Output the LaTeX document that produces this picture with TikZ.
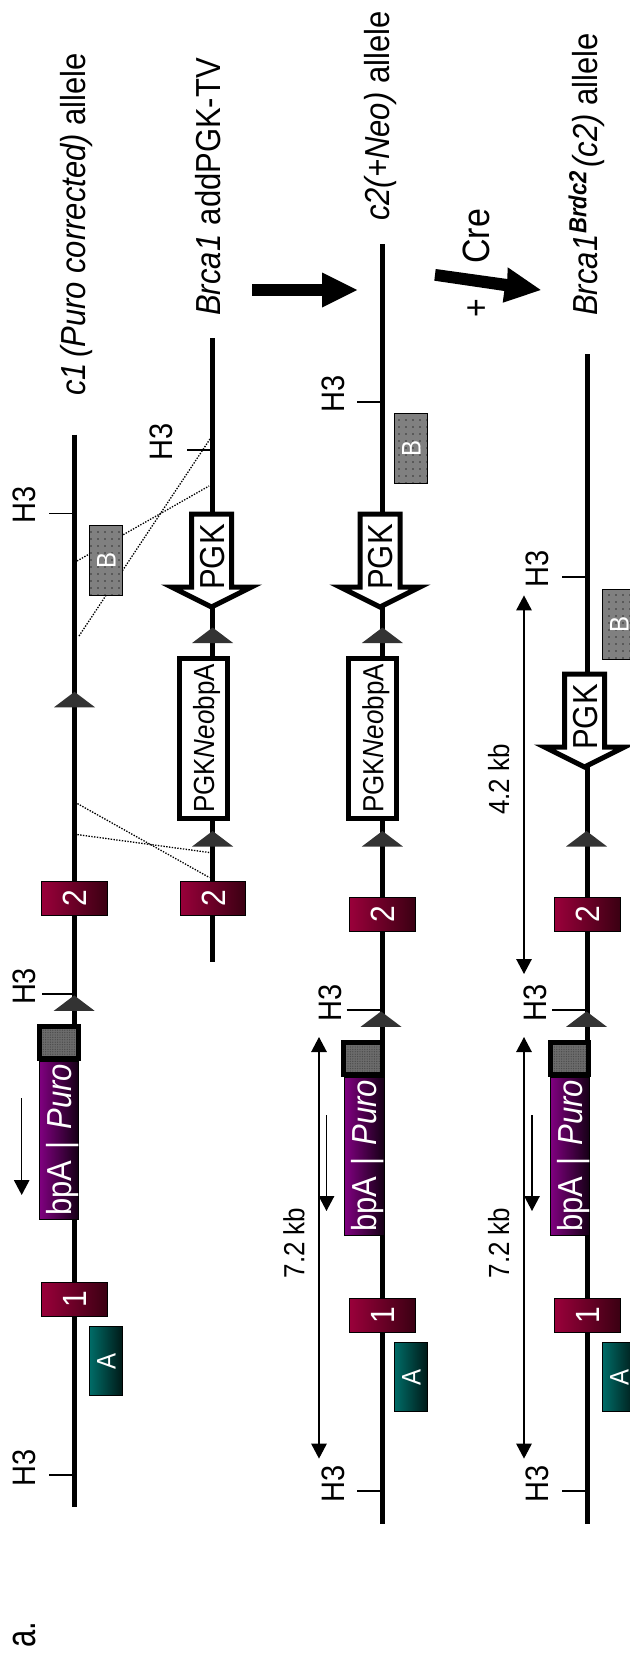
\documentclass[tikz,border=0pt]{standalone}
\usepackage{fontspec}
\setmainfont{Liberation Sans}
\usetikzlibrary{arrows.meta,patterns.meta}
\definecolor{exonred}{HTML}{99003A}
\definecolor{exondark}{HTML}{3A0012}
\definecolor{probeteal}{HTML}{006B66}
\definecolor{probedark}{HTML}{001A18}
\definecolor{purodark}{HTML}{140014}
\definecolor{puromid}{HTML}{700070}
\definecolor{puroedge}{HTML}{800080}
\definecolor{loxgray}{HTML}{333333}
\begin{document}
\begin{tikzpicture}[x=1pt, y=-1pt, >={Triangle[length=15pt,width=15.5pt]},
  genome/.style={line width=5.5pt},
  tick/.style={line width=1.1pt},
  span/.style={line width=1.3pt},
  homology/.style={dash pattern=on 1.4pt off 1.4pt, line width=1.3pt},
  textbase/.style={rotate=90, yscale=1.12, inner sep=0pt},
  alleletext/.style={textbase, anchor=base west, font=\fontsize{31}{36}\selectfont},
  hlabel/.style={textbase, font=\fontsize{29}{32}\selectfont},
  kblabel/.style={textbase, font=\fontsize{26}{30}\selectfont},
  exonbox/.style={textbase, draw=black, line width=1pt, left color=exonred, right color=exondark,
    text=white, minimum width=34pt, minimum height=58.5pt, text height=21.5pt, text depth=0pt,
    font=\fontsize{30}{32}\selectfont},
  probebox/.style={textbase, draw=black, line width=1pt, text=white, minimum width=69.5pt, minimum height=28.6pt,
    text height=17pt, text depth=0pt, font=\fontsize{24}{26}\selectfont},
  probea/.style={probebox, left color=probeteal, right color=probedark},
  probeb/.style={probebox, preaction={fill=gray}, pattern={Dots[distance=7pt,radius=.8pt]}, pattern color=black!80},
  purobox/.style={textbase, draw=black, line width=1pt, left color=puroedge, middle color=puromid, right color=purodark,
    text=white, minimum width=158pt, minimum height=35pt, text height=22pt, text depth=0pt,
    font=\fontsize{31}{34}\selectfont},
  stipple/.style={textbase, draw=black, line width=5pt, preaction={fill=gray!85!black},
    pattern={Dots[distance=2.4pt,radius=.7pt]}, pattern color=black!70,
    minimum width=32pt, minimum height=34pt},
  neobox/.style={textbase, draw=black, line width=5pt, fill=white, minimum width=160pt, minimum height=43pt,
    text height=19pt, text depth=0pt, font=\fontsize{26}{30}\selectfont},
  pgktext/.style={textbase, text height=22pt, text depth=0pt, font=\fontsize{31}{34}\selectfont},
  loxsite/.pic={\fill[loxgray] (-20.5,15.5) -- (0,0) -- (20.5,15.5) -- cycle;},
  pgkarrow/.pic={\filldraw[fill=white, draw=black, line width=5pt, miter limit=10]
    (-20,0) -- (20,0) -- (20,73) -- (40,73) -- (0,93) -- (-40,73) -- (-20,73) -- cycle;}]
\useasboundingbox (0,0) rectangle (629,1659);
\coordinate (cOneTop) at (74.6,434.6);
\coordinate (cOneEnd) at (74.6,1507);
\coordinate (tvTop) at (212.6,338);
\coordinate (tvEnd) at (212.6,962);
\coordinate (cTwoTop) at (382.7,244);
\coordinate (cTwoEnd) at (382.7,1523.6);
\coordinate (brTop) at (587.6,354);
\coordinate (brEnd) at (587.6,1523.6);
\draw[genome] (cOneTop) -- (cOneEnd);
\draw[genome] (tvTop) -- (tvEnd);
\draw[genome] (cTwoTop) -- (cTwoEnd);
\draw[genome] (brTop) -- (brEnd);
\node[alleletext] (cOneText) at (85.4,396) {\textit{c1\,(Puro corrected)} allele};
\node[alleletext] (tvText) at (220.6,316) {\textit{Brca\kern1pt 1} addPGK-TV};
\node[alleletext] (cTwoText) at (389,221) {\textit{c2(+Neo)} allele};
\node[alleletext] (brText) at (597,316) {\textit{Brca\kern1pt 1}\raisebox{9.5pt}{\fontsize{22}{24}\selectfont\bfseries\itshape Brdc2}\kern4pt\textit{(c2)} allele};
\coordinate (dotAa) at (79,636);
\coordinate (dotAb) at (210,439);
\coordinate (dotBa) at (77,561);
\coordinate (dotBb) at (209,486);
\coordinate (dotCa) at (77.4,803.6);
\coordinate (dotCb) at (209.4,877.5);
\coordinate (dotDa) at (77.4,834.6);
\coordinate (dotDb) at (209.4,852.5);
\draw[homology] (dotAa) -- (dotAb);
\draw[homology] (dotBa) -- (dotBb);
\draw[homology] (dotCa) -- (dotCb);
\draw[homology] (dotDa) -- (dotDb);
\node[hlabel] (hOneA) at (24.5,505) {H3};
\node[hlabel] (hOneB) at (24.5,986.4) {H3};
\node[hlabel] (hOneC) at (24.5,1468) {H3};
\node[hlabel] (hTv) at (161,442) {H3};
\node[hlabel] (hTwoA) at (333,394) {H3};
\node[hlabel] (hTwoB) at (330,1002.5) {H3};
\node[hlabel] (hTwoC) at (333,1484) {H3};
\node[hlabel] (hBrA) at (537.5,569) {H3};
\node[hlabel] (hBrB) at (535.5,1002.5) {H3};
\node[hlabel] (hBrC) at (537.5,1484) {H3};
\draw[tick] (49,513.6) -- (cOneTop |- 0,513.6);
\draw[tick] (42,994) -- (cOneTop |- 0,994);
\draw[tick] (49,1475) -- (cOneTop |- 0,1475);
\draw[tick] (187,450) -- (tvTop |- 0,450);
\draw[tick] (357,402) -- (cTwoTop |- 0,402);
\draw[tick] (346.6,1010) -- (cTwoTop |- 0,1010);
\draw[tick] (357,1491) -- (cTwoTop |- 0,1491);
\draw[tick] (562,577) -- (brTop |- 0,577);
\draw[tick] (552,1010) -- (brTop |- 0,1010);
\draw[tick] (562,1491) -- (brTop |- 0,1491);
\node[probeb] (probeBone) at (106,560.5) {B};
\node[probeb] (probeBtwo) at (411,448.3) {B};
\node[probeb] (probeBbr) at (619,624.3) {B};
\node[probea] (probeAone) at (106,1361) {A};
\node[probea] (probeAtwo) at (411,1377) {A};
\node[probea] (probeAbr) at (619,1377) {A};
\node[exonbox] (exOneA) at (74.7,1299) {1};
\node[exonbox] (exTwoA) at (74.7,898.5) {2};
\node[exonbox] (exTwoTv) at (213,898.5) {2};
\node[exonbox] (exTwoB) at (382.7,914.5) {2};
\node[exonbox] (exOneB) at (382.7,1315) {1};
\node[exonbox] (exTwoC) at (587.7,914.5) {2};
\node[exonbox] (exOneC) at (587.7,1315) {1};
\pic at (74.5,691.8) {loxsite};
\pic at (74.2,995.4) {loxsite};
\pic at (212.6,627.5) {loxsite};
\pic at (212.6,831) {loxsite};
\pic at (382.4,627.5) {loxsite};
\pic at (382.4,831) {loxsite};
\pic at (381,1011.4) {loxsite};
\pic at (586.5,831) {loxsite};
\pic at (586.5,1011.4) {loxsite};
\pic at (211.5,514) {pgkarrow};
\pic at (380,514) {pgkarrow};
\pic at (584.5,674) {pgkarrow};
\node[pgktext] (pgkTv) at (212.6,557) {PGK};
\node[pgktext] (pgkTwo) at (380.5,557) {PGK};
\node[pgktext] (pgkBr) at (585,717) {PGK};
\node[neobox] (neoTv) at (203.5,738.5) {PGK\textit{Neo}bpA};
\node[neobox] (neoTwo) at (372.7,738.5) {PGK\textit{Neo}bpA};
\node[stipple] (capOne) at (59,1042.5) {};
\node[stipple] (capTwo) at (363,1058.5) {};
\node[stipple] (capBr) at (569.8,1058.5) {};
\node[purobox] (puroOne) at (59,1140) {bpA\kern3pt{} | \kern3pt\textit{Puro}};
\node[purobox] (puroTwo) at (364.5,1156) {bpA\kern3pt{} | \kern3pt\textit{Puro}};
\node[purobox] (puroBr) at (570,1156) {bpA\kern3pt{} | \kern3pt\textit{Puro}};
\coordinate (orOneA) at (21.7,1098);
\coordinate (orOneB) at (21.7,1195);
\coordinate (orTwoA) at (326.5,1115);
\coordinate (orTwoB) at (326.5,1211);
\coordinate (orBrA) at (532,1115);
\coordinate (orBrB) at (532,1211);
\draw[span,->] (orOneA) -- (orOneB);
\draw[span,->] (orTwoA) -- (orTwoB);
\draw[span,->] (orBrA) -- (orBrB);
\coordinate (sevenTopA) at (319,1037);
\coordinate (sevenEndA) at (319,1458.6);
\coordinate (sevenTopB) at (524,1037);
\coordinate (sevenEndB) at (524,1458.6);
\coordinate (fourTop) at (524,595.4);
\coordinate (fourEnd) at (524,974);
\draw[span,<->] (sevenTopA) -- (sevenEndA);
\draw[span,<->] (sevenTopB) -- (sevenEndB);
\draw[span,<->] (fourTop) -- (fourEnd);
\node[kblabel] (sevenA) at (294,1243) {7.2 kb};
\node[kblabel] (sevenB) at (498.6,1243) {7.2 kb};
\node[kblabel] (fourLab) at (498.6,779.5) {4.2 kb};
\fill (252,284.1) -- (322,284.1) -- (322,272.5) -- (357,290) -- (322,307.5) -- (322,295.9) -- (252,295.9) -- cycle;
\fill (435.7,269) -- (507.3,279) -- (507.7,267.3) -- (540.7,290) -- (502.7,302.7) -- (504.3,291) -- (434.3,280.7) -- cycle;
\node[textbase, anchor=base west, font=\fontsize{34}{36}\selectfont] (creText) at (489,264) {Cre};
\node[textbase, font=\fontsize{32}{36}\selectfont] (plusText) at (478,307.7) {+};
\node[textbase, yscale=1.2, anchor=base west, font=\fontsize{31}{36}\selectfont] (panelText) at (35,1648) {a.};
\end{tikzpicture}
\end{document}
